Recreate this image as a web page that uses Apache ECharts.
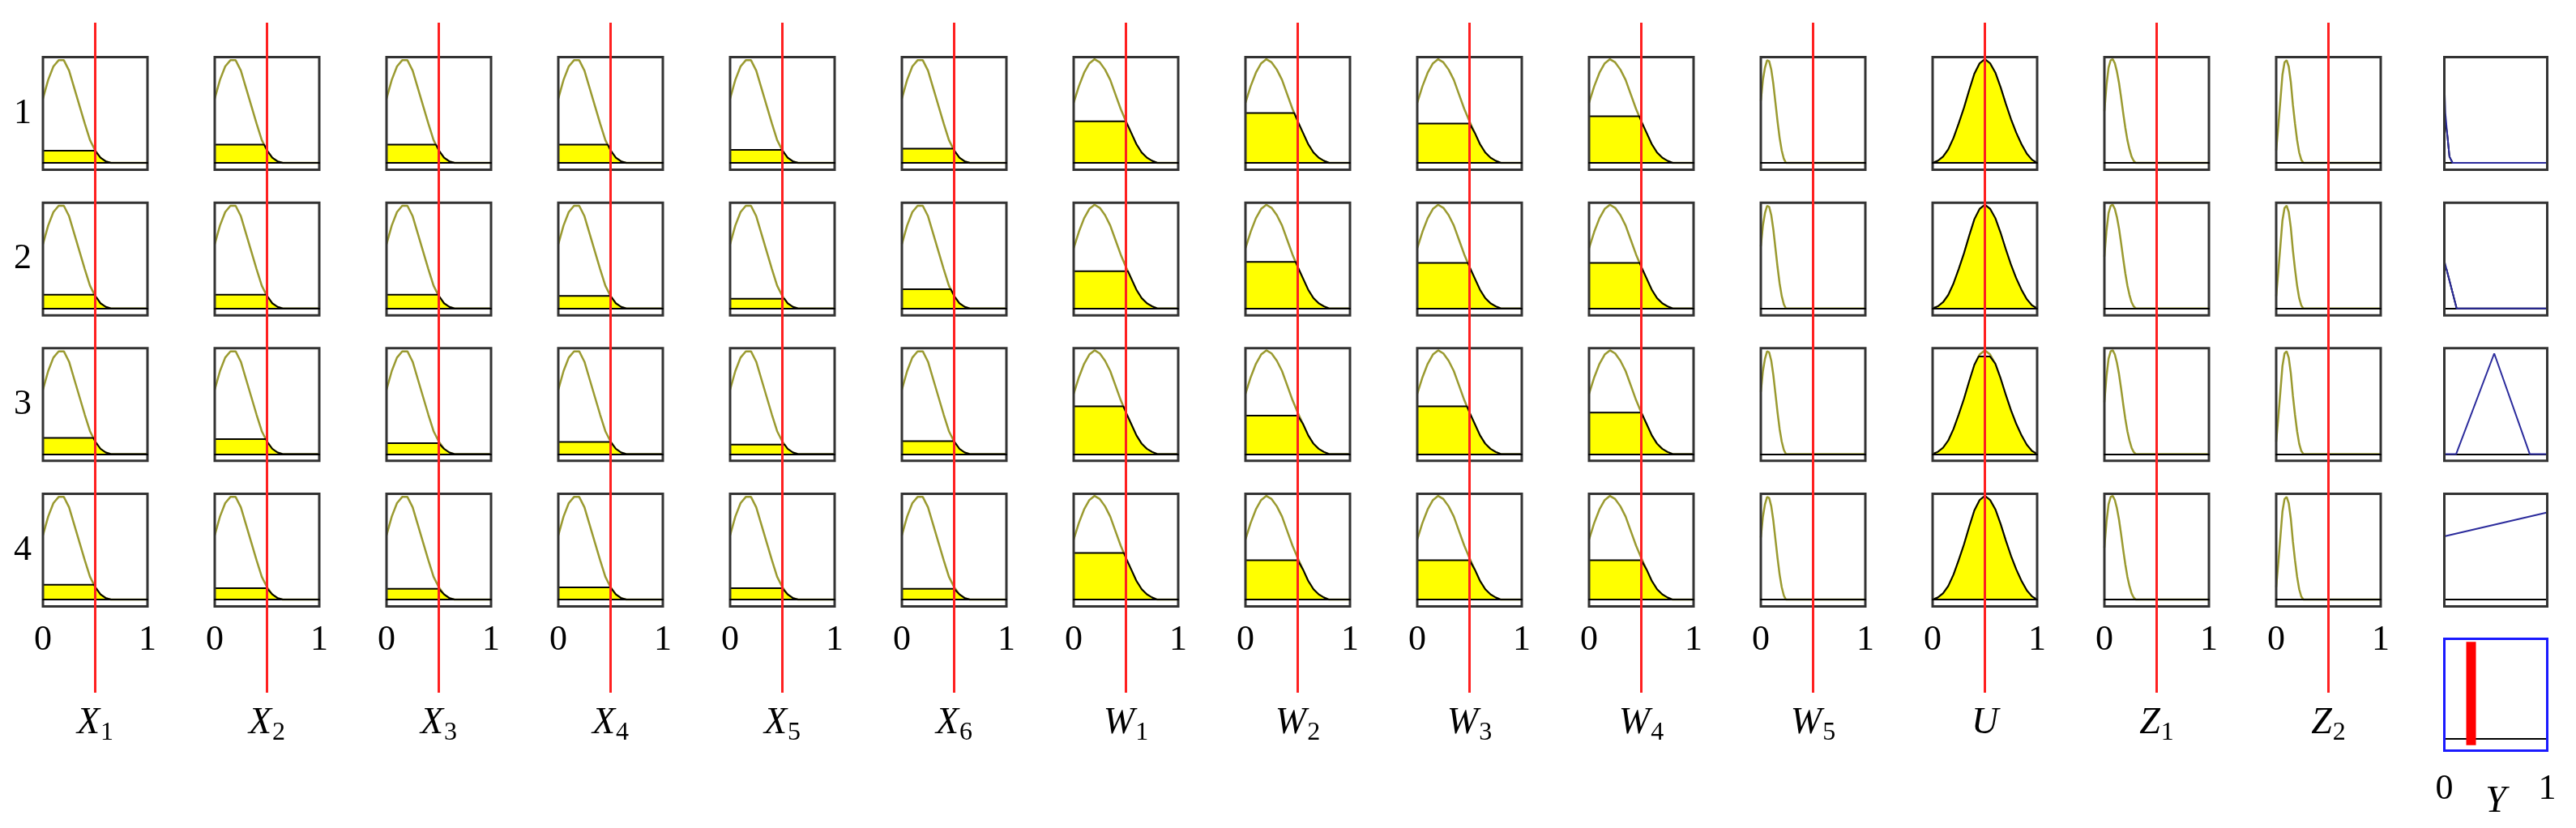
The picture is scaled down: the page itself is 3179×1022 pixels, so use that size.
<!DOCTYPE html>
<html><head><meta charset="utf-8">
<script src="https://cdn.jsdelivr.net/npm/echarts@6/dist/echarts.min.js"></script>
<style>html,body{margin:0;padding:0;background:#fff}#c{width:3179px;height:1022px}</style>
</head><body><div id="c"></div>
<script>
// ---------------- DATA ----------------
const inputNames = ['X','X','X','X','X','X','W','W','W','W','W','U','Z','Z'];
const inputSubs  = ['1','2','3','4','5','6','1','2','3','4','5','','1','2'];
const inputShape = ['x','x','x','x','x','x','w','w','w','w','w5','u','z1','z2'];
const inputValues = [0.5,0.5,0.5,0.5,0.5,0.5,0.5,0.5,0.5,0.5,0.5,0.5,0.5,0.5];
const ruleLabels = ['1','2','3','4'];
const tickValues = [0, 1];

// membership function shapes (x samples, mu values)
const mfXx  = [0,0.05,0.10,0.15,0.20,0.25,0.30,0.35,0.40,0.45,0.50,0.55,0.60,0.65,1];
const mfXy  = [0.62,0.80,0.93,0.99,0.99,0.89,0.72,0.55,0.38,0.22,0.12,0.05,0.015,0,0];
const mfWx  = [0,0.05,0.10,0.15,0.20,0.25,0.30,0.35,0.40,0.45,0.50,0.55,0.60,0.65,0.70,0.75,0.80,1];
const mfWy  = [0.58,0.74,0.87,0.96,1.00,0.97,0.90,0.80,0.66,0.52,0.40,0.29,0.18,0.10,0.05,0.02,0,0];
const mfW5x = [0,0.02,0.04,0.06,0.08,0.10,0.12,0.14,0.16,0.18,0.20,0.22,0.24,1];
const mfW5y = [0.60,0.80,0.92,0.99,0.98,0.90,0.76,0.58,0.40,0.24,0.12,0.04,0,0];
const mfUx  = [0,0.05,0.10,0.15,0.20,0.25,0.30,0.35,0.40,0.45,0.50,0.55,0.60,0.65,0.70,0.75,0.80,0.85,0.90,0.95,1];
const mfUy  = [0,0.02,0.06,0.13,0.24,0.38,0.53,0.70,0.86,0.96,1.00,0.96,0.87,0.73,0.57,0.42,0.29,0.18,0.09,0.03,0];
const mfZ1x = [0,0.02,0.04,0.06,0.08,0.10,0.12,0.14,0.16,0.18,0.20,0.22,0.24,0.26,0.28,0.30,1];
const mfZ1y = [0.50,0.75,0.92,0.99,1.00,0.96,0.88,0.77,0.63,0.48,0.34,0.22,0.13,0.06,0.02,0,0];
const mfZ2x = [0,0.02,0.04,0.06,0.08,0.10,0.12,0.14,0.16,0.18,0.20,0.22,0.24,0.26,1];
const mfZ2y = [0.12,0.35,0.60,0.85,0.97,0.99,0.93,0.78,0.56,0.38,0.22,0.10,0.03,0,0];

// firing level of every input membership in each rule (row)
const levelsRule1 = [0.117,0.177,0.177,0.177,0.125,0.138, 0.40,0.48,0.38,0.45, 0, 1.00, 0, 0];
const levelsRule2 = [0.133,0.133,0.133,0.120,0.094,0.185, 0.36,0.45,0.44,0.44, 0, 1.00, 0, 0];
const levelsRule3 = [0.156,0.143,0.104,0.117,0.091,0.125, 0.46,0.37,0.46,0.40, 0, 0.94, 0, 0];
const levelsRule4 = [0.143,0.109,0.104,0.117,0.109,0.104, 0.45,0.38,0.38,0.38, 0, 1.00, 0, 0];

// output membership functions per rule
const outMF1x = [0,0.01,0.03,0.05,0.08,1];  const outMF1y = [0.79,0.48,0.26,0.06,0,0];
const outMF2x = [0,0.12,1];                 const outMF2y = [0.46,0,0];
const outMF3x = [0,0.115,0.485,0.83,1];     const outMF3y = [0,0,0.97,0,0];
const outMF4x = [0,1];                      const outMF4y = [0.61,0.84];
const outLevels = [0.48, 0.38, 0, 0];
const outputValue = 0.26;
const outputBarSpan = [-0.065, 0.97];

// ---------------- LAYOUT / STYLE ----------------
const SERIF = 'Liberation Serif';
const OLIVE = '#9a9a30', YELLOW = '#ffff00', BLUE_MF = '#2b2b9c', RED = '#ff2020';
const colLeft = c => 53 + c * 212;
const cellW = 129, cellH = 139;
const rowTop = r => 70.5 + r * 179.67;
const outLeft = 3016.5, outW = 127;
const aggTop = 788.5, aggH = 138;
const Y_MIN = -0.066, Y_MAX = 1.02;

const shapes = {
  x: [mfXx, mfXy], w: [mfWx, mfWy], w5: [mfW5x, mfW5y],
  u: [mfUx, mfUy], z1: [mfZ1x, mfZ1y], z2: [mfZ2x, mfZ2y]
};
const levelsByRule = [levelsRule1, levelsRule2, levelsRule3, levelsRule4];
const outMFs = [[outMF1x,outMF1y],[outMF2x,outMF2y],[outMF3x,outMF3y],[outMF4x,outMF4y]];

const RICH = {
  b: {fontFamily: SERIF, fontStyle: 'italic', fontSize: 46, lineHeight: 54, color: '#000'},
  s: {fontFamily: SERIF, fontSize: 32, lineHeight: 30, padding: [24, 0, 0, 1], color: '#000'}
};

const zip = (xs, ys) => xs.map((x, i) => [x, ys[i]]);
function clipAt(xs, ys, lv) {
  const out = [];
  for (let i = 0; i < xs.length; i++) {
    if (i > 0) {
      const a = ys[i-1] - lv, b = ys[i] - lv;
      if ((a > 0 && b < 0) || (a < 0 && b > 0)) {
        const t = a / (a - b);
        out.push([xs[i-1] + t * (xs[i] - xs[i-1]), lv]);
      }
    }
    out.push([xs[i], Math.min(ys[i], lv)]);
  }
  return out;
}

const grids = [], xAxes = [], yAxes = [], series = [];
function addGrid(g, xa, ya) {
  grids.push(Object.assign({outerBoundsMode: 'none', containLabel: false}, g));
  const i = grids.length - 1;
  xAxes.push(Object.assign({gridIndex: i}, xa));
  yAxes.push(Object.assign({gridIndex: i}, ya));
  return i;
}
const tickLabel = (show, margin) => ({show: show, fontFamily: SERIF, fontSize: 44, color: '#000', margin: margin});
function xCfg(o) {
  return Object.assign({
    type: 'value', min: tickValues[0], max: tickValues[1], interval: tickValues[1] - tickValues[0],
    axisLine: {show: true, onZero: true, lineStyle: {color: '#000', width: 2}},
    axisTick: {show: false}, splitLine: {show: false},
    axisLabel: tickLabel(false, 20),
    nameLocation: 'middle', nameMoveOverlap: false, nameTextStyle: {rich: RICH}
  }, o);
}
function yCfg(o) {
  return Object.assign({
    type: 'value', min: Y_MIN, max: Y_MAX,
    axisLine: {show: false}, axisTick: {show: false}, axisLabel: {show: false}, splitLine: {show: false},
    nameLocation: 'middle', nameRotate: 0, nameMoveOverlap: false,
    nameTextStyle: {fontFamily: SERIF, fontSize: 44, color: '#000'}
  }, o);
}
const boxStyle = {show: true, borderColor: '#333', borderWidth: 3, backgroundColor: 'transparent', z: 4};

// input cells
for (let r = 0; r < 4; r++) {
  for (let c = 0; c < inputNames.length; c++) {
    const last = r === 3;
    const label = inputSubs[c] ? `{b|${inputNames[c]}}{s|${inputSubs[c]}}` : `{b|${inputNames[c]}}`;
    const gi = addGrid(
      Object.assign({left: colLeft(c), top: rowTop(r), width: cellW, height: cellH}, boxStyle),
      xCfg({z: 5, axisLabel: tickLabel(last, 20), name: last ? label : '', nameGap: 117}),
      yCfg({name: c === 0 ? ruleLabels[r] : '', nameGap: 14})
    );
    const [xs, ys] = shapes[inputShape[c]];
    series.push({type: 'line', xAxisIndex: gi, yAxisIndex: gi, data: zip(xs, ys), showSymbol: false,
      silent: true, lineStyle: {color: OLIVE, width: 2.5}, z: 2});
    const lv = levelsByRule[r][c];
    if (lv > 0) {
      series.push({type: 'line', xAxisIndex: gi, yAxisIndex: gi, data: clipAt(xs, ys, lv), showSymbol: false,
        silent: true, lineStyle: {color: '#000', width: 2}, areaStyle: {color: YELLOW, opacity: 1}, z: 3});
    }
  }
}

// output cells
for (let r = 0; r < 4; r++) {
  const gi = addGrid(
    Object.assign({left: outLeft, top: rowTop(r), width: outW, height: cellH}, boxStyle),
    xCfg({z: 0}), yCfg({})
  );
  const [xs, ys] = outMFs[r];
  if (outLevels[r] > 0) {
    series.push({type: 'line', xAxisIndex: gi, yAxisIndex: gi, data: clipAt(xs, ys, outLevels[r]), showSymbol: false,
      silent: true, lineStyle: {color: '#000', width: 2}, z: 2});
  }
  series.push({type: 'line', xAxisIndex: gi, yAxisIndex: gi, data: zip(xs, ys), showSymbol: false,
    silent: true, lineStyle: {color: BLUE_MF, width: 2}, z: 3});
}

// aggregated output
{
  const gi = addGrid(
    {left: outLeft, top: aggTop, width: outW, height: aggH, show: true, borderColor: '#1a1aff', borderWidth: 3, z: 4},
    xCfg({z: 1, axisLabel: tickLabel(true, 26), name: '{b|Y}', nameGap: 36}),
    yCfg({min: -0.12, max: 1.0})
  );
  series.push({type: 'line', xAxisIndex: gi, yAxisIndex: gi,
    data: [[outputValue, outputBarSpan[0]], [outputValue, outputBarSpan[1]]], showSymbol: false,
    silent: true, lineStyle: {color: '#ff0000', width: 12, cap: 'butt'}, z: 6});
}

// red input-value lines across all rules
for (let c = 0; c < inputNames.length; c++) {
  const gi = addGrid(
    {left: colLeft(c), top: 28, width: cellW, height: 827, show: false},
    {type: 'value', min: 0, max: 1, show: false},
    {type: 'value', min: 0, max: 1, show: false}
  );
  series.push({type: 'line', xAxisIndex: gi, yAxisIndex: gi,
    data: [[inputValues[c], 0], [inputValues[c], 1]], showSymbol: false,
    silent: true, lineStyle: {color: RED, width: 3}, z: 10});
}

const chart = echarts.init(document.getElementById('c'), null, {renderer: 'canvas', width: 3179, height: 1022});
chart.setOption({
  animation: false,
  backgroundColor: '#fff',
  grid: grids, xAxis: xAxes, yAxis: yAxes, series: series
});
</script></body></html>
